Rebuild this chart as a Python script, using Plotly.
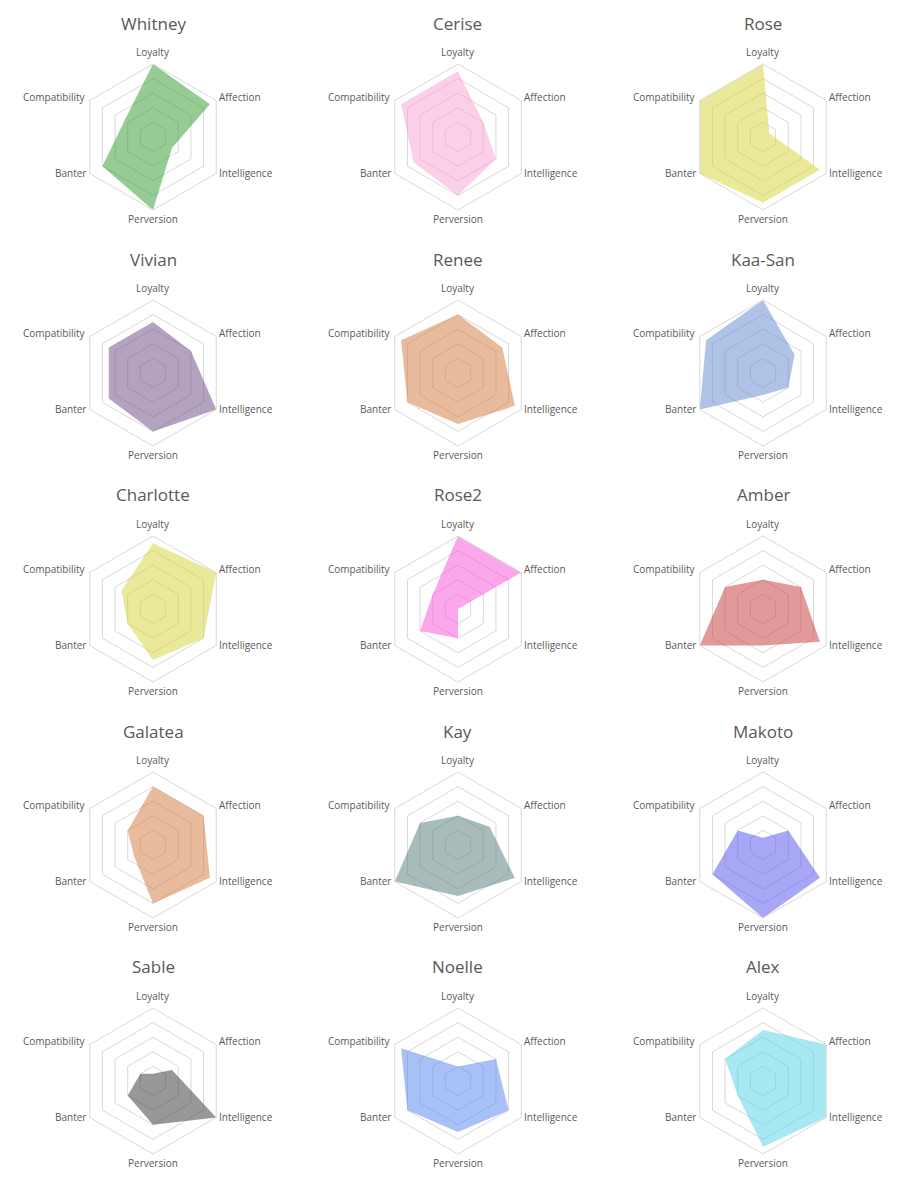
import plotly.graph_objects as go

categories = ["Loyalty", "Affection", "Intelligence", "Perversion", "Banter", "Compatibility"]

names = ["Whitney", "Cerise", "Rose",
         "Vivian", "Renee", "Kaa-San",
         "Charlotte", "Rose2", "Amber",
         "Galatea", "Kay", "Makoto",
         "Sable", "Noelle", "Alex"]

whitney = [10, 9, 3, 10, 8, 4.5]
cerise = [9, 4, 6, 8, 7, 9]
rose = [10, 1, 9, 9, 10, 10]
vivian = [7, 6, 10, 8, 7, 7]
renee = [8, 7, 9, 7, 8, 9]
kaasan = [10, 5, 4, 3, 10, 9]
charlotte = [9, 10, 8, 7, 4, 5]
rose2 = [10, 10, 0, 4, 6, 4]
amber = [4, 6, 9, 5, 10, 6]
galatea = [8, 8, 9, 8, 3, 4]
kay = [4, 5, 9, 7, 10, 6]
makoto = [1, 4, 9, 10, 8, 4]
sable = [1, 3, 10, 6, 4, 2]
noelle = [2, 6, 8, 7, 8, 9]
alex = [7, 10, 10, 9, 4, 6]

series = [whitney, cerise, rose, vivian, renee, kaasan, charlotte, rose2,
          amber, galatea, kay, makoto, sable, noelle, alex]

colors = ["rgba(46,152,46,0.5)", "rgba(250,160,210,0.5)", "rgba(212,212,52,0.5)",
          "rgba(106,70,132,0.5)", "rgba(210,120,60,0.5)", "rgba(95,135,205,0.5)",
          "rgba(212,212,52,0.5)", "rgba(250,80,215,0.5)", "rgba(195,52,52,0.5)",
          "rgba(210,120,60,0.5)", "rgba(82,122,122,0.5)", "rgba(80,80,238,0.5)",
          "rgba(50,50,50,0.5)", "rgba(80,130,235,0.5)", "rgba(80,210,230,0.5)"]

W, H = 915, 1181
col_cx = [153, 458, 763]
row_cy0 = 137
row_step = 236
R = 73

# label placement relative to each chart centre: (dx, dy, xanchor)
label_pos = [(0, -85, "center"), (65, -40, "left"), (65, 36, "left"),
             (0, 82, "center"), (-66, 36, "right"), (-66, -40, "right")]

fig = go.Figure()
annotations = []
layout_polars = {}
for i, (name, vals, col) in enumerate(zip(names, series, colors)):
    r_i, c_i = divmod(i, 3)
    cx = col_cx[c_i]
    cy = row_cy0 + row_step * r_i
    key = "polar" if i == 0 else f"polar{i+1}"
    fig.add_trace(go.Scatterpolar(
        r=vals + [vals[0]], theta=categories + [categories[0]],
        fill="toself", fillcolor=col, mode="lines",
        line=dict(width=0, color=col), subplot=key, name=name,
        showlegend=False, hoverinfo="r+theta"))
    layout_polars[key] = dict(
        domain=dict(x=[(cx - R) / W, (cx + R) / W],
                    y=[1 - (cy + R) / H, 1 - (cy - R) / H]),
        gridshape="linear", bgcolor="rgba(0,0,0,0)",
        radialaxis=dict(range=[0, 10], tickvals=[2, 4, 6, 8], showticklabels=False,
                        showline=False, ticks="", gridcolor="#d9d9d9", gridwidth=1),
        angularaxis=dict(direction="clockwise", rotation=90, showgrid=False,
                         linecolor="#d9d9d9", linewidth=1, ticks="",
                         showticklabels=False,
                         categoryorder="array", categoryarray=categories),
    )
    annotations.append(dict(text=name, x=cx / W, y=1 - (23 + row_step * r_i) / H,
                            xref="paper", yref="paper",
                            showarrow=False, xanchor="center", yanchor="middle",
                            font=dict(size=17, color="#595959", family="Open Sans")))
    for cat, (dx, dy, xa) in zip(categories, label_pos):
        annotations.append(dict(text=cat, x=(cx + dx) / W, y=1 - (cy + dy) / H,
                                xref="paper", yref="paper", showarrow=False,
                                xanchor=xa, yanchor="middle", borderpad=0,
                                font=dict(size=10, color="#595959", family="Open Sans")))

fig.update_layout(width=W, height=H, margin=dict(l=0, r=0, t=0, b=0),
                  paper_bgcolor="white", plot_bgcolor="white",
                  annotations=annotations, **layout_polars)

fig.write_html("out.html")
